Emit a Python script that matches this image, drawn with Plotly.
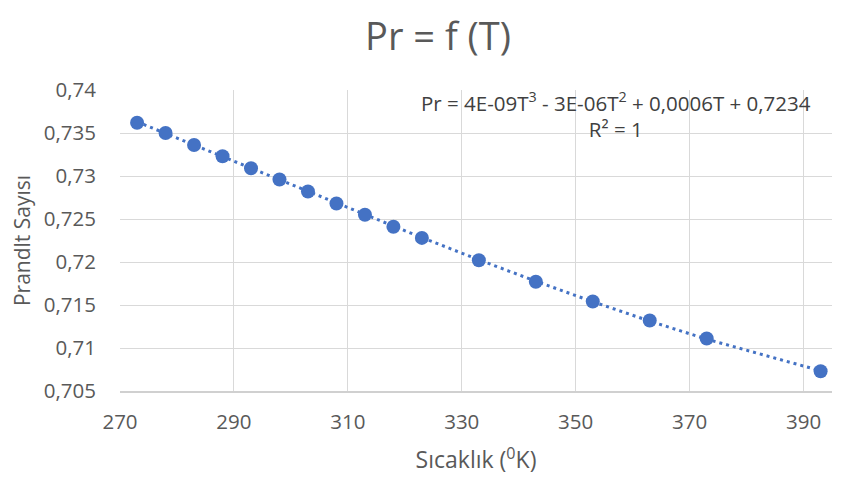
import numpy as np
import plotly.graph_objects as go

temperature = [273, 278, 283, 288, 293, 298, 303, 308, 313, 318, 323, 333, 343, 353, 363, 373, 393]
prandtl = [0.7362, 0.7350, 0.7336, 0.7323, 0.7309, 0.7296, 0.7282, 0.7268, 0.7255, 0.7241,
           0.7228, 0.7202, 0.7177, 0.7154, 0.7132, 0.7111, 0.7073]
x_ticks = [270, 290, 310, 330, 350, 370, 390]
y_ticks = [0.705, 0.71, 0.715, 0.72, 0.725, 0.73, 0.735, 0.74]
y_tick_labels = ["0,705", "0,71", "0,715", "0,72", "0,725", "0,73", "0,735", "0,74"]

coef = np.polyfit(temperature, prandtl, 3)
fit_vals = np.polyval(coef, temperature)

FONT = "Open Sans"
GRAY = "#595959"
BLUE = "#4472C4"

fig = go.Figure()
fig.add_trace(go.Scatter(x=temperature, y=fit_vals, mode="lines",
                         line=dict(color=BLUE, width=3, dash="3px,4px"),
                         hoverinfo="skip", showlegend=False))
fig.add_trace(go.Scatter(x=temperature, y=prandtl, mode="markers",
                         marker=dict(color=BLUE, size=14), showlegend=False))

fig.update_layout(
    width=849, height=479,
    paper_bgcolor="white", plot_bgcolor="white",
    margin=dict(l=112, r=25, t=82, b=96),
    font=dict(family=FONT, color=GRAY, size=20),
    title=dict(text="Pr = f (T)", x=0.5065, xanchor="center", y=0.94, yanchor="middle",
               font=dict(family=FONT, size=38, color=GRAY)),
    xaxis=dict(range=[270, 395], tickvals=x_ticks, ticktext=[str(v) for v in x_ticks],
               showgrid=True, gridcolor="#d9d9d9", gridwidth=1,
               showline=True, linecolor="#d0d0d0", linewidth=1.5,
               zeroline=False, ticks="", ticklabelstandoff=12, automargin=False,
               tickfont=dict(size=20.5, color=GRAY),
               title=dict(text="Sıcaklık (<sup>0</sup>K)", standoff=18,
                          font=dict(size=23, color=GRAY))),
    yaxis=dict(range=[0.705, 0.74], tickvals=y_ticks, ticktext=y_tick_labels,
               showgrid=True, gridcolor="#d9d9d9", gridwidth=1,
               showline=False, zeroline=False, ticks="", ticklabelstandoff=23,
               automargin=False,
               tickfont=dict(size=20.5, color=GRAY),
               title=dict(text="Prandlt Sayısı", standoff=12,
                          font=dict(size=21, color=GRAY))),
    annotations=[dict(
        x=0.697, y=1.018, xref="paper", yref="paper", xanchor="center", yanchor="top",
        text="Pr = 4E-09T<sup>3</sup> - 3E-06T<sup>2</sup> + 0,0006T + 0,7234<br>R² = 1",
        showarrow=False, align="center", font=dict(size=20.5, color="#404040", family=FONT))],
)

fig.write_html("out.html")
